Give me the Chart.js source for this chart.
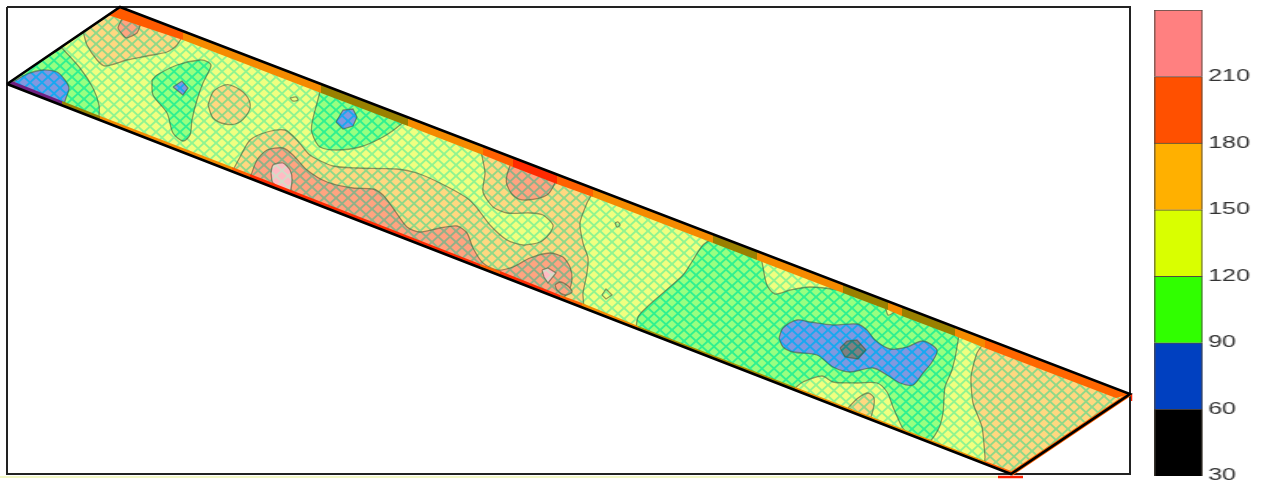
<!DOCTYPE html>
<html>
<head>
<meta charset="utf-8">
<title>Contour strip</title>
<script src="https://cdn.jsdelivr.net/npm/chart.js@4/dist/chart.umd.min.js"></script>
<style>
    html, body { margin: 0; padding: 0; background: #fff; overflow: hidden; }
    #map { position: absolute; left: 0; top: 0; filter: blur(0.6px); }
    #scaleBar { position: absolute; left: 1154px; top: -3px; transform-origin: left top; transform: scaleX(1.57); filter: blur(0.35px); }
</style>
</head>
<body>
<canvas id="map" width="1267" height="484"></canvas>
<canvas id="scaleBar" width="72" height="492"></canvas>
<script>
// Colour scale
const levels = [30, 60, 90, 120, 150, 180, 210, 240];
const levelColors = ['#000000', '#0040c0', '#30ff00', '#d9ff00', '#ffb000', '#ff5000', '#ff8080'];

// Map outline (x, y)
const frame = [[7, 7], [1130, 7], [1130, 474], [7, 474], [7, 7]];
const strip = [[7, 84], [120, 7], [1130, 394], [1011, 474], [7, 84]];

// Contour zones, green 90-120
const greenWest = [[62, 48], [80, 68], [93, 88], [99, 105], [99, 118], [99, 121], [7, 84]];
const greenBlob = [[152, 80], [157, 75], [177, 65], [200, 60], [208, 62], [211, 66], [203, 83], [197, 100], [192, 120], [190, 135], [183, 141], [173, 133], [167, 113], [153, 95]];
const greenNorth = [[322, 84], [317, 103], [312, 123], [312, 133], [320, 147], [337, 150], [360, 147], [383, 137], [400, 125], [408, 116]];
const greenEast = [[717, 236], [703, 245], [693, 260], [683, 275], [663, 293], [647, 307], [638, 317], [638, 330], [927, 442], [938, 430], [943, 413], [945, 387], [952, 370], [957, 347], [957, 328]];

// Blue 60-90
const blueWest = [[13, 82], [27, 74], [43, 70], [57, 72], [65, 80], [69, 88], [66, 98], [62, 106], [7, 84]];
const bluePocket = [[173, 87], [182, 81], [188, 88], [183, 95]];
const blueNorth = [[336, 122], [343, 110], [353, 109], [357, 117], [353, 126], [343, 129]];
const blueEast = [[779, 338], [783, 328], [797, 320], [810, 322], [833, 325], [857, 324], [867, 330], [875, 340], [890, 349], [907, 347], [923, 341], [937, 350], [932, 362], [923, 373], [913, 385], [900, 383], [887, 375], [873, 368], [850, 372], [833, 367], [817, 355], [793, 352], [783, 347]];

// Black 30-60
const coreEast = [[840, 348], [847, 341], [857, 340], [866, 350], [858, 359], [845, 357]];

// Yellow lobes inside the eastern green zone, 120-150
const yellowNorth = [[760, 251], [763, 267], [767, 285], [775, 294], [790, 290], [810, 287], [840, 290], [865, 295], [884, 305], [888, 315], [893, 313], [902, 306]];
const yellowSouth = [[795, 388], [803, 382], [822, 376], [833, 382], [857, 383], [877, 383], [887, 392], [893, 407], [902, 427], [908, 435]];
const yellowSpotA = [[602, 295], [606, 289], [612, 295], [606, 299]];

// Orange 150-180
const orangeNorth = [[83, 31], [87, 45], [97, 60], [105, 66], [127, 60], [147, 56], [167, 52], [177, 45], [183, 31], [120, 7]];
const orangeDisc = [[208, 105], [213, 92], [222, 86], [230, 85], [243, 92], [250, 103], [248, 113], [238, 123], [225, 124], [213, 118]];
const orangeMiddle = [[232, 172], [240, 157], [250, 140], [267, 132], [285, 130], [297, 140], [310, 155], [333, 166], [357, 168], [397, 169], [417, 173], [440, 183], [467, 198], [477, 208], [490, 225], [507, 240], [523, 245], [540, 242], [550, 233], [553, 225], [543, 215], [530, 213], [507, 213], [493, 207], [483, 192], [485, 173], [483, 146], [593, 188], [587, 203], [580, 223], [583, 243], [588, 258], [587, 273], [583, 293], [582, 307]];
const orangeSouth = [[848, 408], [858, 398], [868, 393], [874, 398], [873, 410], [869, 419]];
const orangeEast = [[987, 339], [977, 353], [971, 377], [973, 403], [982, 427], [985, 457], [985, 464], [1011, 474], [1130, 394]];

// Red 180-210
const redNorth = [[123, 17], [118, 28], [126, 38], [137, 33], [141, 22], [137, 16], [130, 14]];
const redMiddle = [[250, 178], [257, 160], [267, 150], [283, 148], [293, 155], [307, 170], [327, 182], [353, 188], [373, 189], [383, 195], [393, 208], [407, 227], [420, 232], [440, 228], [457, 226], [467, 233], [473, 248], [483, 263], [497, 270], [513, 267], [530, 258], [550, 253], [563, 257], [570, 267], [572, 280], [568, 292], [560, 299]];
const redCentre = [[513, 158], [507, 175], [507, 185], [515, 197], [527, 200], [547, 195], [555, 183], [557, 175]];
const redRing = [[555, 285], [560, 282], [568, 286], [572, 292], [565, 295], [557, 290]];

// Pink above 210
const pinkWest = [[271, 173], [273, 165], [283, 163], [290, 170], [292, 180], [289, 193], [273, 183]];
const pinkEast = [[542, 270], [548, 268], [556, 273], [548, 283], [544, 277]];

// Tiny closed contours in the yellow zone
const specks = [[[290, 98], [296, 97], [298, 100], [293, 101]], [[615, 223], [618, 222], [620, 225], [617, 227]]];

// Coloured band under the upper edge
const bandNorth = [
    [[120, 7], [183, 31], [183, 40], [108, 15]],
    [[183, 31], [321, 84], [321, 93], [183, 40]],
    [[321, 84], [408, 117], [408, 126], [321, 93]],
    [[408, 117], [483, 146], [483, 155], [408, 126]],
    [[483, 146], [513, 158], [513, 167], [483, 155]],
    [[513, 158], [557, 175], [557, 184], [513, 167]],
    [[557, 175], [593, 188], [593, 197], [557, 184]],
    [[593, 188], [713, 234], [713, 243], [593, 197]],
    [[713, 234], [757, 251], [757, 260], [713, 243]],
    [[757, 251], [843, 284], [843, 293], [757, 260]],
    [[843, 284], [888, 301], [888, 310], [843, 293]],
    [[888, 301], [902, 307], [902, 316], [888, 310]],
    [[902, 307], [955, 327], [955, 336], [902, 316]],
    [[955, 327], [985, 339], [985, 348], [955, 336]],
    [[985, 339], [1130, 394], [1116, 398], [985, 348]]
];
const bandNorthColors = ['#ff5a00', '#f58a00', '#998000', '#f58a00', '#ff6000', '#ff2a00', '#ff6000', '#f58a00', '#998000', '#f58a00', '#998000', '#f58a00', '#998000', '#f58a00', '#ff6600'];

// Coloured band over the lower edge
const bandSouth = [
    [[7, 84], [62, 105], [62, 101], [12, 81]],
    [[62, 105], [100, 120], [100, 116], [62, 101]],
    [[100, 120], [232, 171], [232, 167], [100, 116]],
    [[232, 171], [250, 178], [250, 174], [232, 167]],
    [[250, 178], [480, 268], [480, 264], [250, 174]],
    [[480, 268], [500, 275], [500, 271], [480, 264]],
    [[500, 275], [560, 299], [560, 295], [500, 271]],
    [[560, 299], [582, 307], [582, 303], [560, 295]],
    [[582, 307], [638, 329], [638, 326], [582, 303]],
    [[638, 329], [795, 390], [795, 387], [638, 326]],
    [[795, 390], [985, 464], [985, 461], [795, 387]],
    [[985, 464], [1011, 474], [1011, 471], [985, 461]]
];
const bandSouthColors = ['#702080', '#998000', '#f58a00', '#ff6000', '#ff2a00', '#ff6000', '#ff2a00', '#ff6000', '#f58a00', '#a89000', '#f09000', '#ff6000'];

// White areas of the frame outside the strip
const outside = [
    [[7, 7], [120, 7], [7, 84]],
    [[120, 7], [1130, 7], [1130, 394]],
    [[7, 84], [1011, 474], [7, 474]],
    [[1011, 474], [1130, 474], [1130, 394]]
];

// Stray marks along the picture border
const eastEdgeGlow = [[1011, 474], [1130, 394]];
const redTickEast = [[1131, 394], [1131, 401]];
const redTickSouth = [[998, 477], [1023, 477]];
const paleLineSouth = [[0, 477], [998, 477]];

// Crosshatched fill, one tile per zone
function hatch(base, line) {
    const tile = document.createElement('canvas');
    tile.width = 12;
    tile.height = 11;
    const c = tile.getContext('2d');
    c.fillStyle = base;
    c.fillRect(0, 0, 12, 11);
    c.strokeStyle = line;
    c.lineWidth = 2;
    [-12, 0, 12].forEach(dx => {
        c.beginPath();
        c.moveTo(dx, 0);
        c.lineTo(dx + 12, 11);
        c.stroke();
        c.beginPath();
        c.moveTo(dx, 11);
        c.lineTo(dx + 12, 0);
        c.stroke();
    });
    return c.createPattern(tile, 'repeat');
}

const ctx = document.getElementById('map').getContext('2d');
const fills = {
    yellow: hatch('#f0ff80', '#90f490'),
    green: hatch('#98ff80', '#30f090'),
    blue: hatch('#8098e0', '#18a8f0'),
    black: hatch('#808080', '#208888'),
    orange: hatch('#ffd880', '#90d888'),
    red: hatch('#ffa480', '#90b088'),
    pink: hatch('#ffbcc4', '#d4dcc8')
};
const contourColor = 'rgba(70, 80, 50, 0.55)';

function zone(points, fill, tension) {
    return {
        data: points.concat([points[0]]),
        showLine: true,
        fill: 'shape',
        backgroundColor: fill,
        borderColor: contourColor,
        borderWidth: 1.3,
        tension: tension,
        pointRadius: 0
    };
}

function solid(points, color) {
    return {
        data: points.concat([points[0]]),
        showLine: true,
        fill: 'shape',
        backgroundColor: color,
        borderWidth: 0,
        pointRadius: 0
    };
}

function stroke(points, color, width) {
    return { data: points, showLine: true, fill: false, borderColor: color, borderWidth: width, pointRadius: 0 };
}

// Bottom layer first, order is set from this list below
const layers = [
    zone(strip, fills.yellow, 0),
    zone(greenWest, fills.green, 0.3),
    zone(greenBlob, fills.green, 0.3),
    zone(greenNorth, fills.green, 0.3),
    zone(greenEast, fills.green, 0.25),
    zone(yellowNorth, fills.yellow, 0.3),
    zone(yellowSouth, fills.yellow, 0.3),
    zone(yellowSpotA, fills.yellow, 0),
    zone(blueWest, fills.blue, 0.25),
    zone(bluePocket, fills.blue, 0),
    zone(blueNorth, fills.blue, 0),
    zone(blueEast, fills.blue, 0.3),
    zone(coreEast, fills.black, 0),
    zone(orangeNorth, fills.orange, 0.25),
    zone(orangeDisc, fills.orange, 0.3),
    zone(orangeMiddle, fills.orange, 0.25),
    zone(orangeSouth, fills.orange, 0.3),
    zone(orangeEast, fills.orange, 0.2),
    zone(redNorth, fills.red, 0.15),
    zone(redMiddle, fills.red, 0.25),
    zone(redCentre, fills.red, 0.3),
    zone(redRing, fills.red, 0.3),
    zone(pinkWest, fills.pink, 0.25),
    zone(pinkEast, fills.pink, 0),
    ...specks.map(s => zone(s, fills.yellow, 0.3)),
    ...bandNorth.map((b, i) => solid(b, bandNorthColors[i])),
    ...bandSouth.map((b, i) => solid(b, bandSouthColors[i])),
    ...outside.map(o => solid(o, '#ffffff')),
    stroke(paleLineSouth, '#eef5b0', 1.5),
    stroke(redTickEast, '#ff2000', 2.5),
    stroke(redTickSouth, '#ff2000', 2.5),
    stroke(frame, '#222222', 2),
    stroke(eastEdgeGlow, '#ff6000', 4.5),
    stroke(strip, '#000000', 2.6)
];
layers.forEach((d, i) => { d.order = layers.length - i; });

new Chart(ctx, {
    type: 'scatter',
    data: { datasets: layers },
    options: {
        responsive: false,
        animation: false,
        layout: { padding: 0 },
        plugins: { legend: { display: false }, tooltip: { enabled: false } },
        scales: {
            x: { type: 'linear', min: 0, max: 1267, display: false },
            y: { type: 'linear', min: 0, max: 484, reverse: true, display: false }
        }
    }
});

// Colour bar next to the map
new Chart(document.getElementById('scaleBar'), {
    type: 'bar',
    data: {
        labels: [''],
        datasets: levelColors.map((color, i) => ({
            data: [[levels[i], levels[i + 1]]],
            backgroundColor: color,
            borderColor: 'rgba(40, 30, 20, 0.8)',
            borderWidth: 1,
            barPercentage: 1,
            categoryPercentage: 1,
            grouped: false
        }))
    },
    options: {
        responsive: false,
        animation: false,
        layout: { padding: { top: 7, bottom: 0 } },
        plugins: { legend: { display: false }, tooltip: { enabled: false } },
        scales: {
            x: { display: false },
            y: {
                position: 'right',
                min: 30,
                max: 240,
                afterFit: scale => { scale.width = 41; },
                border: { display: false },
                grid: { display: false, drawTicks: false },
                ticks: {
                    stepSize: 30,
                    padding: 3.4,
                    color: '#333333',
                    font: { family: 'Liberation Sans', size: 16 },
                    callback: value => (value === 240 ? '' : value)
                }
            }
        }
    }
});
</script>
</body>
</html>
